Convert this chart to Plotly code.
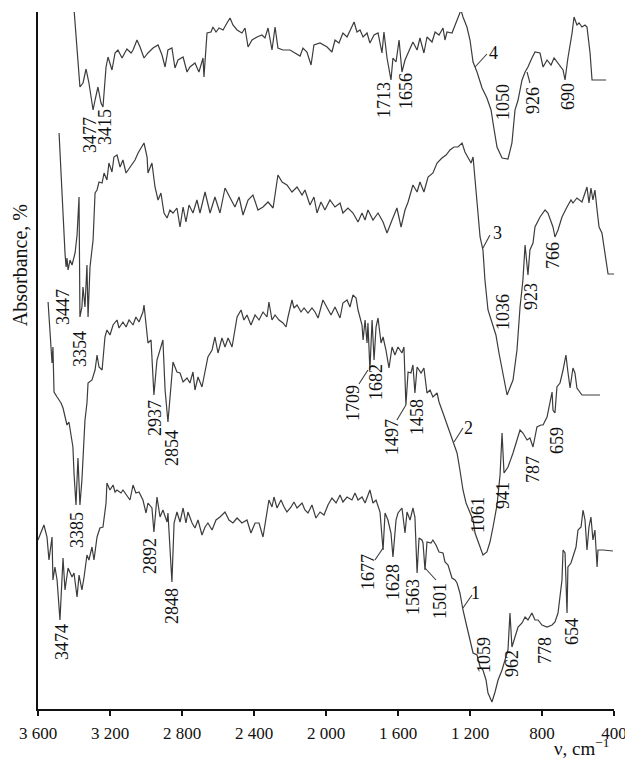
import plotly.graph_objects as go

# ---------------- data (wavenumber, cm-1 ; relative absorbance, offset per curve) -------------
c4_wn = [3400,3367,3350,3333,3317,3294,3283,3267,3250,3239,3222,3211,3189,3172,3156,3133,3106,3083,3072,3050,
         3033,3011,2989,2961,2933,2911,2894,2878,2856,2839,2822,2794,2772,2756,2728,2706,2683,2678,2661,2639,
         2628,2611,2594,2572,2550,2533,2517,2494,2467,2450,2433,2411,2383,2356,2339,2322,2300,2283,2267,2239,
         2200,2172,2144,2128,2106,2083,2067,2033,1994,1967,1950,1928,1906,1883,1856,1844,1828,1811,1794,1772,
         1756,1733,1711,1689,1678,1661,1639,1628,1611,1594,1578,1561,1544,1517,1494,1478,1456,1439,1411,1394,
         1372,1350,1339,1328,1300,1283,1267,1250,1239,1217,1200,1183,1161,1133,1106,1083,1072,1050,1022,989,
         967,950,933,911,894,878,856,839,811,794,772,750,733,711,683,672,656,633,622,606,
         594,578,561,550,533,522,444]
c4_y = [700,622,626,640,626,599,609,622,606,602,642,652,639,656,659,651,660,656,659,669,
        662,651,656,661,664,654,642,659,661,641,649,652,637,642,646,637,651,632,676,677,
        682,677,681,679,686,691,684,679,676,681,662,669,672,674,671,681,659,682,661,659,
        659,656,653,661,657,644,664,666,662,657,669,666,676,672,682,687,677,679,672,676,
        666,674,676,656,677,651,629,651,647,669,637,649,656,667,659,671,656,672,667,677,
        674,681,669,677,676,684,692,699,692,682,669,647,637,621,611,599,586,562,551,550,
        566,599,609,629,637,642,651,657,656,642,649,644,651,646,639,629,651,676,692,684,
        686,682,684,682,656,629,629]

c3_wn = [3483,3472,3461,3450,3444,3439,3433,3422,3411,3394,3383,3372,3367,3356,3350,3339,3328,3322,3311,3294,
         3283,3272,3261,3244,3233,3217,3206,3189,3178,3161,3144,3128,3111,3089,3061,3044,3022,3011,2994,2989,
         2967,2950,2933,2917,2900,2883,2867,2850,2828,2811,2794,2778,2761,2739,2717,2700,2672,2644,2617,2589,
         2561,2533,2506,2483,2461,2433,2406,2378,2350,2322,2294,2267,2244,2217,2189,2161,2133,2117,2089,2067,
         2050,2028,2006,1978,1950,1922,1906,1878,1850,1822,1800,1783,1767,1739,1711,1683,1661,1633,1606,1583,
         1561,1544,1517,1494,1478,1456,1433,1406,1383,1356,1333,1311,1289,1267,1244,1228,1211,1194,1183,1161,
         1144,1128,1117,1100,1072,1056,1039,1017,994,961,939,922,906,894,878,867,850,839,811,783,
         767,739,728,711,689,661,639,628,606,578,561,550,539,528,517,506,494,483,467,450,
         433,400]
c3_y = [576,536,482,456,442,451,439,449,444,456,474,512,392,402,422,402,444,392,442,469,
        516,519,527,526,536,529,546,537,552,554,542,549,536,542,549,556,562,566,552,536,
        546,522,509,516,496,491,499,496,501,482,502,487,504,496,509,496,517,496,512,496,
        521,512,502,512,494,509,514,499,502,507,501,534,527,524,517,522,514,519,504,512,
        496,507,499,509,502,506,496,501,496,487,496,489,499,489,496,487,476,489,501,482,
        499,507,524,517,527,517,532,536,546,551,554,559,562,562,566,557,552,546,552,502,
        472,459,429,399,382,374,356,336,314,329,359,402,429,464,434,459,466,482,492,499,
        496,482,472,479,492,502,509,506,511,507,516,522,506,521,509,519,499,482,476,456,
        435,435]

c2_wn = [3544,3522,3517,3511,3494,3472,3461,3439,3428,3417,3406,3400,3389,3378,3367,3356,3339,3328,3322,3300,
         3283,3272,3261,3244,3228,3217,3200,3183,3161,3150,3128,3111,3094,3072,3056,3039,3017,3011,3000,2989,
         2972,2956,2939,2917,2906,2900,2894,2878,2861,2850,2828,2811,2794,2772,2756,2739,2728,2711,2689,2672,
         2656,2633,2617,2600,2578,2561,2544,2522,2506,2494,2472,2456,2439,2417,2394,2372,2350,2328,2317,2300,
         2283,2261,2239,2222,2211,2189,2178,2161,2139,2122,2100,2078,2061,2044,2017,1994,1972,1950,1922,1906,
         1883,1867,1850,1833,1822,1800,1794,1783,1772,1767,1756,1744,1733,1722,1711,1694,1683,1667,1650,1633,
         1617,1600,1578,1567,1556,1544,1528,1517,1506,1494,1472,1456,1439,1422,1406,1383,1372,1350,1322,1294,
         1272,1256,1239,1222,1183,1172,1144,1128,1106,1089,1072,1050,1033,1022,1011,989,961,933,922,906,
         883,867,850,839,828,806,794,772,761,744,739,728,717,700,683,667,656,644,628,617,
         606,578,478]
c2_y = [407,346,362,317,312,306,301,284,287,276,262,236,204,251,204,229,289,306,326,329,
        339,354,342,339,372,379,374,384,389,381,387,382,389,384,392,387,397,404,381,366,
        369,314,349,362,369,344,319,287,329,347,337,336,327,331,326,337,319,332,322,336,
        352,359,372,356,371,362,371,362,381,392,399,389,394,384,394,389,397,392,407,389,
        394,389,386,382,392,409,401,404,397,401,396,401,397,391,409,402,394,402,391,406,
        409,402,414,411,399,384,369,389,366,386,339,389,349,382,391,366,372,359,341,362,
        354,362,356,362,304,337,336,344,316,342,336,341,316,319,312,316,307,296,282,267,
        256,239,219,206,189,176,162,154,157,167,182,204,234,276,236,242,256,272,279,276,
        269,271,262,272,282,284,284,292,302,317,299,296,322,326,339,354,337,321,341,336,
        321,314,314]

c1_wn = [3600,3583,3567,3550,3539,3522,3517,3506,3494,3478,3461,3450,3433,3411,3400,3383,3372,3356,3344,3328,
         3317,3300,3289,3272,3256,3239,3233,3222,3217,3200,3183,3172,3161,3139,3128,3106,3089,3072,3056,3039,
         3017,3000,2989,2967,2956,2939,2922,2906,2883,2878,2856,2844,2828,2811,2794,2778,2767,2744,2728,2711,
         2689,2672,2656,2633,2611,2589,2561,2539,2517,2494,2467,2439,2417,2394,2372,2350,2333,2317,2300,2289,
         2272,2250,2233,2217,2194,2178,2161,2133,2117,2100,2078,2056,2033,2011,1989,1967,1944,1922,1906,1883,
         1856,1839,1822,1800,1783,1756,1739,1722,1700,1683,1672,1656,1639,1628,1611,1600,1578,1561,1550,1533,
         1517,1506,1494,1483,1467,1461,1450,1439,1417,1406,1389,1372,1350,1339,1322,1300,1283,1272,1256,1239,
         1217,1200,1183,1161,1144,1128,1111,1100,1078,1061,1044,1022,1006,989,978,967,950,933,911,894,
         878,856,839,822,800,772,744,728,711,689,683,672,661,656,639,628,611,600,583,572,
         561,550,539,528,517,506,494,489,461,406]
c1_y = [169,176,184,172,149,172,129,142,129,89,151,119,141,132,136,112,134,119,132,154,
        149,162,149,172,181,182,192,206,226,219,224,217,219,216,219,214,209,224,216,217,
        209,196,206,201,177,212,192,199,187,196,127,186,197,187,201,186,197,186,181,189,
        174,182,186,179,189,192,197,189,186,191,186,189,176,186,186,172,192,209,202,212,
        201,209,202,197,202,207,201,206,199,196,204,191,197,194,204,211,206,214,207,212,
        209,216,209,212,206,219,206,209,197,159,196,189,176,152,189,196,201,176,197,189,
        201,192,136,171,169,166,139,167,166,169,164,157,156,147,144,131,129,126,116,99,
        82,69,56,54,42,39,29,16,7,17,29,39,49,59,96,62,72,82,86,92,
        89,96,89,89,84,82,84,87,96,129,159,156,96,142,146,152,162,179,182,199,
        189,159,182,192,169,179,142,159,159,158]

curves = [(c1_wn, c1_y), (c2_wn, c2_y), (c3_wn, c3_y), (c4_wn, c4_y)]

# peak labels: (wavenumber, y, text)
peak_labels = [
    (3311, 574, "3477"), (3228, 582, "3415"), (1678, 609, "1713"), (1556, 618, "1656"),
    (1017, 607, "1050"), (850, 608, "926"), (656, 613, "690"),
    (3461, 402, "3447"), (3367, 360, "3354"), (1017, 397, "1036"), (861, 412, "923"), (739, 454, "766"),
    (3383, 179, "3385"), (2950, 291, "2937"), (2856, 261, "2854"), (1850, 306, "1709"), (1722, 327, "1682"),
    (1633, 272, "1497"), (1494, 292, "1458"), (1156, 194, "1061"), (1017, 214, "941"), (850, 239, "787"),
    (717, 269, "659"),
    (3467, 67, "3474"), (2978, 153, "2892"), (2856, 103, "2848"), (1767, 137, "1677"), (1628, 127, "1628"),
    (1517, 112, "1563"), (1367, 108, "1501"), (1122, 54, "1059"), (967, 46, "962"), (783, 58, "778"),
    (633, 77, "654"),
]
# curve numbers: (wavenumber, y, text)
curve_labels = [(1072, 656, "4"), (1050, 476, "3"), (1211, 281, "2"), (1172, 116, "1")]
# leader lines: (wn0, y0, wn1, y1)
leaders = [
    (1172, 642, 1106, 655), (883, 637, 867, 626),
    (1128, 461, 1089, 474),
    (1289, 267, 1239, 281), (1767, 339, 1817, 325), (1556, 304, 1606, 289),
    (1239, 101, 1189, 114), (1683, 161, 1728, 149), (1450, 141, 1389, 129),
]

x_ticks = [3600, 3200, 2800, 2400, 2000, 1600, 1200, 800, 400]
x_tick_text = ["3 600", "3 200", "2 800", "2 400", "2 000", "1 600", "1 200", "800", "400"]

FONT = "Liberation Serif"
LINE = "#3c3c3c"

fig = go.Figure()
for wn, y in curves:
    fig.add_trace(go.Scatter(x=wn, y=y, mode="lines",
                             line=dict(color=LINE, width=1.2), showlegend=False, hoverinfo="skip"))

for wn0, y0, wn1, y1 in leaders:
    fig.add_shape(type="line", xref="x", yref="y", x0=wn0, y0=y0, x1=wn1, y1=y1,
                  line=dict(color=LINE, width=1.1))

for wn, y, t in peak_labels:
    fig.add_annotation(x=wn, y=y, text=t, showarrow=False, textangle=-90,
                       xanchor="center", yanchor="middle",
                       font=dict(family=FONT, size=18, color="#111111"))

for wn, y, t in curve_labels:
    fig.add_annotation(x=wn, y=y, text=t, showarrow=False,
                       xanchor="center", yanchor="middle",
                       font=dict(family=FONT, size=18, color="#111111"))

# axis titles
fig.add_annotation(xref="paper", yref="paper", x=-0.031, y=0.637, text="Absorbance, %",
                   textangle=-90, showarrow=False, xanchor="center", yanchor="middle",
                   font=dict(family=FONT, size=20, color="#111111"))
fig.add_annotation(xref="paper", yref="paper", x=0.943, y=-0.054, text="ν, cm<sup>−1</sup>",
                   showarrow=False, xanchor="center", yanchor="middle",
                   font=dict(family=FONT, size=19, color="#111111"))

# page body adds an 8px offset, so the figure is 8px smaller and margins reduced accordingly
fig.update_layout(
    width=625, height=752,
    margin=dict(l=30, r=19, t=4, b=51, autoexpand=False),
    paper_bgcolor="white", plot_bgcolor="white",
    showlegend=False,
)
fig.update_xaxes(range=[3600, 400], tickmode="array", tickvals=x_ticks, ticktext=x_tick_text,
                 automargin=False, ticklabelstandoff=3,
                 showgrid=False, zeroline=False, showline=True, linecolor="#111111", linewidth=2,
                 ticks="outside", ticklen=5, tickwidth=1.5, tickcolor="#111111",
                 tickfont=dict(family=FONT, size=17, color="#111111"))
fig.update_yaxes(range=[0, 697], showticklabels=False, showgrid=False, zeroline=False,
                 automargin=False,
                 showline=True, linecolor="#111111", linewidth=2, ticks="")

fig.write_html("out.html")
